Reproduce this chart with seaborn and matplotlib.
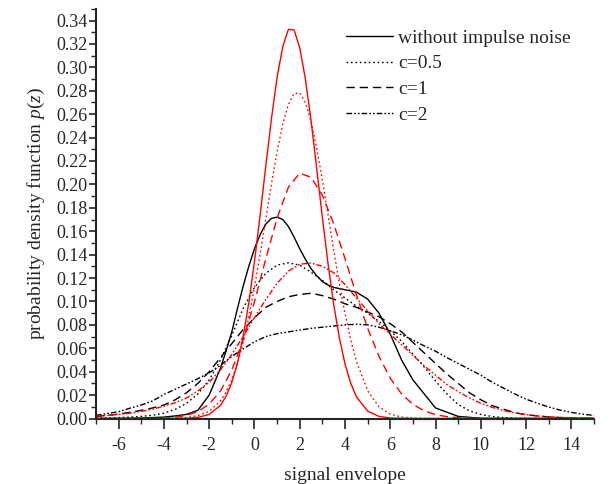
import matplotlib
matplotlib.use("Agg")
import matplotlib.pyplot as plt
import seaborn as sns

# sampling grids (signal envelope)
x_narrow = [-7, -6, -5, -4, -3.5, -3, -2.5, -2,
            -1.5, -1.25, -1, -0.75, -0.5, -0.25, 0, 0.25, 0.5, 0.75, 1, 1.25,
            1.5, 1.75, 2, 2.25, 2.5, 2.75, 3, 3.25, 3.5, 3.75, 4, 4.25, 4.5,
            5, 5.5, 6, 6.5, 7, 8, 9, 10, 11, 12, 13, 14, 15]
x_wide = [-7, -6.5, -6, -5.5, -5, -4.5, -4, -3.5, -3, -2.5, -2, -1.5, -1, -0.5,
          0, 0.5, 1, 1.5, 2, 2.5, 3, 3.5, 4, 4.5, 5, 5.5, 6, 6.5, 7, 7.5, 8,
          8.5, 9, 9.5, 10, 10.5, 11, 11.5, 12, 12.5, 13, 13.5, 14, 14.5, 15]

# red family
red_none = [0, 0, 0, 0, 0, 0.0002, 0.0009, 0.0035,
            0.0113, 0.0191, 0.0307, 0.0474, 0.0699, 0.0989, 0.1339, 0.1736, 0.2154, 0.2560, 0.2914, 0.3176,
            0.3325, 0.3320, 0.3167, 0.2901, 0.2545, 0.2138, 0.1719, 0.1324, 0.0976, 0.0689, 0.0466, 0.0302, 0.0187,
            0.0063, 0.0018, 0.0004, 0.0001, 0, 0, 0, 0, 0, 0, 0, 0, 0]
red_c05 = [0, 0, 0, 0.0001, 0.0003, 0.0008, 0.0024, 0.0062,
           0.0150, 0.0226, 0.0331, 0.0472, 0.0650, 0.0867, 0.1122, 0.1405, 0.1704, 0.2003, 0.2279, 0.2513,
           0.2684, 0.2776, 0.2781, 0.2699, 0.2537, 0.2310, 0.2038, 0.1741, 0.1440, 0.1154, 0.0896, 0.0674, 0.0491,
           0.0237, 0.0100, 0.0038, 0.0012, 0.0004, 0.0001, 0, 0, 0, 0, 0, 0, 0]
red_c1 = [0, 0, 0, 0, 0, 0.0001, 0.0004, 0.0011, 0.0026, 0.0059, 0.0123, 0.0235, 0.0414, 0.0670,
          0.0997, 0.1363, 0.1712, 0.1976, 0.2096, 0.2060, 0.1907, 0.1663, 0.1367, 0.1058, 0.0772, 0.0531,
          0.0344, 0.0210, 0.0121, 0.0065, 0.0033, 0.0016, 0.0007, 0.0003, 0.0001,
          0, 0, 0, 0, 0, 0, 0, 0, 0, 0]
red_c2 = [0.002, 0.0027, 0.0035, 0.0045, 0.006, 0.008, 0.0105, 0.0135, 0.0175, 0.0235, 0.031, 0.0415, 0.0548, 0.0701,
          0.0861, 0.1017, 0.1155, 0.1259, 0.1318, 0.1328, 0.130, 0.1245, 0.1145, 0.103, 0.092, 0.081,
          0.072, 0.063, 0.054, 0.045, 0.037, 0.029, 0.023, 0.0175, 0.013, 0.0095, 0.0068, 0.0048,
          0.0033, 0.0022, 0.0015, 0.001, 0.0006, 0.0004, 0.0003]

# black family (no-noise curve sampled on the narrow grid)
black_none = [0, 0.0001, 0.0004, 0.0012, 0.0022, 0.0035, 0.007, 0.020,
              0.043, 0.058, 0.074, 0.094, 0.113, 0.130, 0.145, 0.157, 0.166, 0.171, 0.172, 0.170,
              0.164, 0.155, 0.145, 0.136, 0.128, 0.122, 0.117, 0.114, 0.112, 0.111, 0.110, 0.109, 0.108,
              0.102, 0.090, 0.072, 0.050, 0.033, 0.009, 0.0018, 0.0002, 0, 0, 0, 0, 0]
black_c05 = [0.0003, 0.0005, 0.0008, 0.0012, 0.0018, 0.0028, 0.0045, 0.0078, 0.013, 0.021, 0.033, 0.050, 0.071, 0.094,
             0.112, 0.124, 0.131, 0.133, 0.131, 0.125, 0.118, 0.110, 0.103, 0.096, 0.090, 0.083,
             0.075, 0.066, 0.055, 0.044, 0.032, 0.021, 0.012, 0.0065, 0.0035, 0.0017, 0.0008, 0.0003,
             0.0001, 0, 0, 0, 0, 0, 0]
black_c1 = [0.0017, 0.0027, 0.0038, 0.0053, 0.007, 0.009, 0.0115, 0.016, 0.022, 0.030, 0.040, 0.052, 0.064, 0.076,
            0.086, 0.095, 0.100, 0.104, 0.106, 0.107, 0.105, 0.102, 0.098, 0.095, 0.091, 0.087,
            0.081, 0.074, 0.065, 0.056, 0.047, 0.038, 0.030, 0.022, 0.016, 0.011, 0.008, 0.005,
            0.0033, 0.0022, 0.0013, 0.0008, 0.0004, 0.0002, 0.0001]
black_c2 = [0.0027, 0.0043, 0.0058, 0.0088, 0.0115, 0.015, 0.0205, 0.025, 0.0295, 0.034, 0.039, 0.0455, 0.053, 0.0595,
            0.0655, 0.070, 0.0725, 0.074, 0.0755, 0.077, 0.078, 0.079, 0.080, 0.0805, 0.080, 0.078,
            0.075, 0.0715, 0.067, 0.062, 0.0575, 0.052, 0.047, 0.042, 0.037, 0.031, 0.026, 0.021,
            0.0165, 0.013, 0.0098, 0.0072, 0.0052, 0.0037, 0.0026]

legend_labels = ["without impulse noise", "c=0.5", "c=1", "c=2"]

sns.set_style("ticks")
plt.rcParams["font.family"] = ["Liberation Serif", "DejaVu Serif"]
plt.rcParams["mathtext.fontset"] = "custom"
plt.rcParams["mathtext.rm"] = "Liberation Serif"
plt.rcParams["mathtext.it"] = "Liberation Serif:italic"
plt.rcParams["axes.unicode_minus"] = False

styles = ["-", (0, (1.2, 2.0)), (0, (6, 3.5)), (0, (4, 1.5, 1.2, 1.5, 1.2, 1.5))]

fig = plt.figure(figsize=(6.15, 4.84), dpi=100)
ax = fig.add_axes([96 / 615, 1 - 418.5 / 484, 498 / 615, 409.7 / 484])

black_x = [x_narrow, x_wide, x_wide, x_wide]
black_lines = []
for xs, ys, ls in zip(black_x, [black_none, black_c05, black_c1, black_c2], styles):
    sns.lineplot(x=xs, y=ys, ax=ax, color="black", linestyle=ls, linewidth=1.0, sort=False)
    black_lines.append(ax.lines[-1])

red_x = [x_narrow, x_narrow, x_wide, x_wide]
for xs, ys, ls in zip(red_x, [red_none, red_c05, red_c1, red_c2], styles):
    sns.lineplot(x=xs, y=ys, ax=ax, color="red", linestyle=ls, linewidth=1.0, sort=False)

ax.set_xlim(-7, 15)
ax.set_ylim(0, 0.35)
ax.set_xticks(range(-6, 15, 2))
ax.set_xticks(range(-7, 16, 1), minor=True)
ax.set_yticks([i * 0.02 for i in range(18)])
ax.set_yticks([i * 0.01 for i in range(36)], minor=True)
ax.set_yticklabels([f"{i * 0.02:.2f}" for i in range(18)])
ax.tick_params(axis="both", which="major", direction="out", width=1.2, labelsize=13)
ax.tick_params(axis="x", which="major", length=7, pad=6)
ax.tick_params(axis="y", which="major", length=5, pad=1)
ax.tick_params(axis="both", which="minor", direction="out", length=3.5, width=1.0)
for side in ["left", "bottom"]:
    ax.spines[side].set_linewidth(1.5)
sns.despine(ax=ax)

ax.set_xlabel("signal envelope", fontsize=14, labelpad=10)
ax.set_ylabel("probability density function $p(z)$", fontsize=14, labelpad=7)

ax.legend(black_lines, legend_labels, loc="upper left", bbox_to_anchor=(346 / 615, 1 - 29 / 484),
          bbox_transform=fig.transFigure, frameon=False, fontsize=14, handlelength=2.4,
          handletextpad=0.3, labelspacing=0.42, borderpad=0, borderaxespad=0)

fig.savefig("out.png", dpi=100)
